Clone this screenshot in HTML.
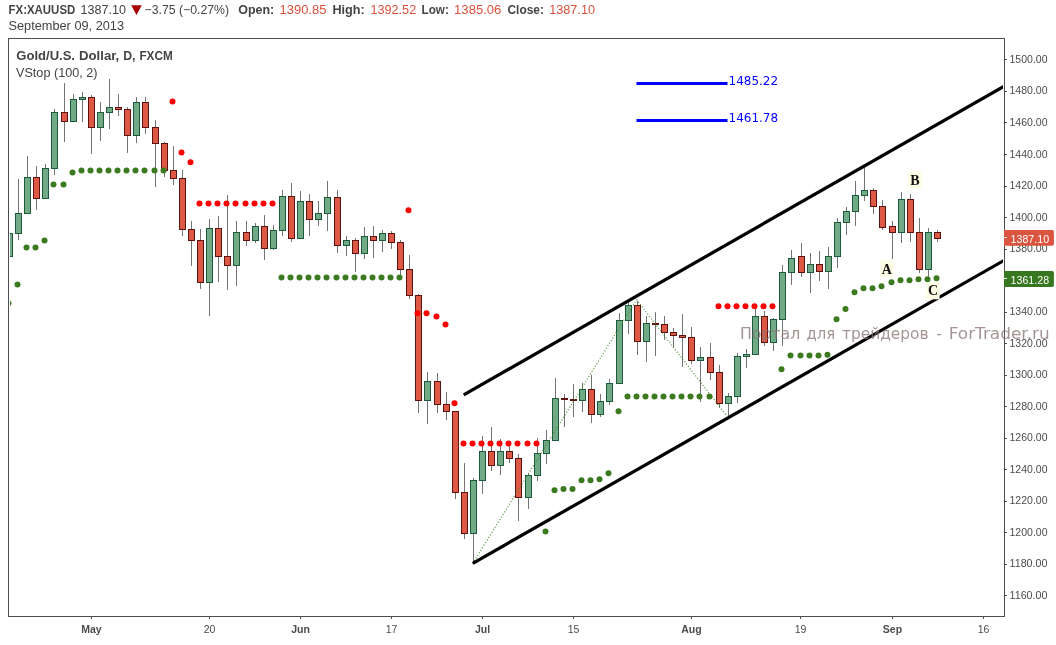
<!DOCTYPE html>
<html><head><meta charset="utf-8"><title>XAUUSD chart</title>
<style>html,body{margin:0;padding:0;background:#fff;}svg{display:block;}text{font-family:"Liberation Sans",sans-serif;}.ax{font-size:10.5px;fill:#4c4c4c;}.hd{font-size:12.4px;fill:#444;}.b{font-weight:bold;}.rv{fill:#d9513c;}.wk{fill:#737373;}.gb{fill:#70aa87;stroke:#1d5a3a;stroke-width:1;}.rb{fill:#dd5946;stroke:#5c130d;stroke-width:1;}.abc{font-family:"Liberation Serif",serif;font-weight:bold;font-size:14px;fill:#111;}</style></head><body>
<svg width="1056" height="645" viewBox="0 0 1056 645">
<rect width="1056" height="645" fill="#fff"/>
<defs><clipPath id="cp"><rect x="10" y="40" width="993" height="575"/></clipPath></defs>
<g clip-path="url(#cp)">
<rect class="wk" x="9" y="233" width="1" height="24"/>
<rect class="gb" x="6.5" y="233.5" width="6" height="23"/>
<rect class="wk" x="18" y="179" width="1" height="61"/>
<rect class="gb" x="15.5" y="213.5" width="6" height="20"/>
<rect class="wk" x="27" y="156" width="1" height="58"/>
<rect class="gb" x="24.5" y="177.5" width="6" height="36"/>
<rect class="wk" x="36" y="166" width="1" height="44"/>
<rect class="rb" x="33.5" y="177.5" width="6" height="21"/>
<rect class="wk" x="45" y="164" width="1" height="35"/>
<rect class="gb" x="42.5" y="168.5" width="6" height="30"/>
<rect class="wk" x="54" y="109" width="1" height="66"/>
<rect class="gb" x="51.5" y="112.5" width="6" height="56"/>
<rect class="wk" x="64" y="83" width="1" height="59"/>
<rect class="rb" x="61.5" y="112.5" width="6" height="9"/>
<rect class="wk" x="73" y="94" width="1" height="28"/>
<rect class="gb" x="70.5" y="99.5" width="6" height="22"/>
<rect class="wk" x="82" y="92" width="1" height="30"/>
<rect class="gb" x="79.5" y="97.5" width="6" height="2"/>
<rect class="wk" x="91" y="95" width="1" height="59"/>
<rect class="rb" x="88.5" y="97.5" width="6" height="30"/>
<rect class="wk" x="100" y="102" width="1" height="39"/>
<rect class="gb" x="97.5" y="112.5" width="6" height="15"/>
<rect class="wk" x="109" y="79" width="1" height="50"/>
<rect class="gb" x="106.5" y="107.5" width="6" height="5"/>
<rect class="wk" x="118" y="94" width="1" height="22"/>
<rect class="rb" x="115.5" y="107.5" width="6" height="2"/>
<rect class="wk" x="127" y="107" width="1" height="46"/>
<rect class="rb" x="124.5" y="109.5" width="6" height="26"/>
<rect class="wk" x="136" y="97" width="1" height="46"/>
<rect class="gb" x="133.5" y="102.5" width="6" height="33"/>
<rect class="wk" x="145" y="97" width="1" height="37"/>
<rect class="rb" x="142.5" y="102.5" width="6" height="25"/>
<rect class="wk" x="155" y="120" width="1" height="67"/>
<rect class="rb" x="152.5" y="127.5" width="6" height="16"/>
<rect class="wk" x="164" y="142" width="1" height="35"/>
<rect class="rb" x="161.5" y="143.5" width="6" height="27"/>
<rect class="wk" x="173" y="146" width="1" height="39"/>
<rect class="rb" x="170.5" y="170.5" width="6" height="8"/>
<rect class="wk" x="182" y="170" width="1" height="66"/>
<rect class="rb" x="179.5" y="178.5" width="6" height="51"/>
<rect class="wk" x="191" y="221" width="1" height="45"/>
<rect class="rb" x="188.5" y="229.5" width="6" height="11"/>
<rect class="wk" x="200" y="229" width="1" height="60"/>
<rect class="rb" x="197.5" y="240.5" width="6" height="42"/>
<rect class="wk" x="209" y="219" width="1" height="97"/>
<rect class="gb" x="206.5" y="228.5" width="6" height="54"/>
<rect class="wk" x="218" y="216" width="1" height="66"/>
<rect class="rb" x="215.5" y="228.5" width="6" height="28"/>
<rect class="wk" x="227" y="195" width="1" height="95"/>
<rect class="rb" x="224.5" y="256.5" width="6" height="9"/>
<rect class="wk" x="236" y="221" width="1" height="65"/>
<rect class="gb" x="233.5" y="232.5" width="6" height="33"/>
<rect class="wk" x="246" y="221" width="1" height="25"/>
<rect class="rb" x="243.5" y="232.5" width="6" height="8"/>
<rect class="wk" x="255" y="223" width="1" height="20"/>
<rect class="gb" x="252.5" y="226.5" width="6" height="14"/>
<rect class="wk" x="264" y="215" width="1" height="45"/>
<rect class="rb" x="261.5" y="226.5" width="6" height="22"/>
<rect class="wk" x="273" y="225" width="1" height="25"/>
<rect class="gb" x="270.5" y="230.5" width="6" height="18"/>
<rect class="wk" x="282" y="190" width="1" height="46"/>
<rect class="gb" x="279.5" y="196.5" width="6" height="34"/>
<rect class="wk" x="291" y="183" width="1" height="59"/>
<rect class="rb" x="288.5" y="196.5" width="6" height="42"/>
<rect class="wk" x="300" y="191" width="1" height="48"/>
<rect class="gb" x="297.5" y="201.5" width="6" height="37"/>
<rect class="wk" x="309" y="194" width="1" height="42"/>
<rect class="rb" x="306.5" y="201.5" width="6" height="18"/>
<rect class="wk" x="318" y="201" width="1" height="25"/>
<rect class="gb" x="315.5" y="213.5" width="6" height="6"/>
<rect class="wk" x="327" y="181" width="1" height="50"/>
<rect class="gb" x="324.5" y="197.5" width="6" height="16"/>
<rect class="wk" x="337" y="190" width="1" height="63"/>
<rect class="rb" x="334.5" y="197.5" width="6" height="48"/>
<rect class="wk" x="346" y="236" width="1" height="20"/>
<rect class="gb" x="343.5" y="240.5" width="6" height="5"/>
<rect class="wk" x="355" y="238" width="1" height="34"/>
<rect class="rb" x="352.5" y="240.5" width="6" height="13"/>
<rect class="wk" x="364" y="227" width="1" height="32"/>
<rect class="gb" x="361.5" y="236.5" width="6" height="17"/>
<rect class="wk" x="373" y="226" width="1" height="32"/>
<rect class="rb" x="370.5" y="236.5" width="6" height="4"/>
<rect class="wk" x="382" y="230" width="1" height="22"/>
<rect class="gb" x="379.5" y="233.5" width="6" height="7"/>
<rect class="wk" x="391" y="231" width="1" height="18"/>
<rect class="rb" x="388.5" y="233.5" width="6" height="9"/>
<rect class="wk" x="400" y="240" width="1" height="36"/>
<rect class="rb" x="397.5" y="242.5" width="6" height="27"/>
<rect class="wk" x="409" y="255" width="1" height="44"/>
<rect class="rb" x="406.5" y="269.5" width="6" height="26"/>
<rect class="wk" x="418" y="294" width="1" height="119"/>
<rect class="rb" x="415.5" y="295.5" width="6" height="105"/>
<rect class="wk" x="427" y="372" width="1" height="52"/>
<rect class="gb" x="424.5" y="381.5" width="6" height="19"/>
<rect class="wk" x="437" y="373" width="1" height="40"/>
<rect class="rb" x="434.5" y="381.5" width="6" height="23"/>
<rect class="wk" x="446" y="392" width="1" height="28"/>
<rect class="rb" x="443.5" y="404.5" width="6" height="7"/>
<rect class="wk" x="455" y="411" width="1" height="88"/>
<rect class="rb" x="452.5" y="411.5" width="6" height="81"/>
<rect class="wk" x="464" y="463" width="1" height="76"/>
<rect class="rb" x="461.5" y="492.5" width="6" height="41"/>
<rect class="wk" x="473" y="478" width="1" height="85"/>
<rect class="gb" x="470.5" y="480.5" width="6" height="53"/>
<rect class="wk" x="482" y="436" width="1" height="58"/>
<rect class="gb" x="479.5" y="451.5" width="6" height="29"/>
<rect class="wk" x="491" y="427" width="1" height="44"/>
<rect class="rb" x="488.5" y="451.5" width="6" height="14"/>
<rect class="wk" x="500" y="439" width="1" height="36"/>
<rect class="gb" x="497.5" y="451.5" width="6" height="14"/>
<rect class="wk" x="509" y="445" width="1" height="18"/>
<rect class="rb" x="506.5" y="451.5" width="6" height="7"/>
<rect class="wk" x="518" y="454" width="1" height="67"/>
<rect class="rb" x="515.5" y="458.5" width="6" height="39"/>
<rect class="wk" x="528" y="473" width="1" height="36"/>
<rect class="gb" x="525.5" y="475.5" width="6" height="22"/>
<rect class="wk" x="537" y="438" width="1" height="43"/>
<rect class="gb" x="534.5" y="453.5" width="6" height="22"/>
<rect class="wk" x="546" y="430" width="1" height="34"/>
<rect class="gb" x="543.5" y="440.5" width="6" height="13"/>
<rect class="wk" x="555" y="378" width="1" height="63"/>
<rect class="gb" x="552.5" y="398.5" width="6" height="42"/>
<rect class="wk" x="564" y="394" width="1" height="33"/>
<rect class="rb" x="561.5" y="398.5" width="6" height="1"/>
<rect class="wk" x="573" y="384" width="1" height="33"/>
<rect class="rb" x="570.5" y="399.5" width="6" height="1"/>
<rect class="wk" x="582" y="383" width="1" height="29"/>
<rect class="gb" x="579.5" y="389.5" width="6" height="11"/>
<rect class="wk" x="591" y="375" width="1" height="48"/>
<rect class="rb" x="588.5" y="389.5" width="6" height="25"/>
<rect class="wk" x="600" y="394" width="1" height="23"/>
<rect class="gb" x="597.5" y="401.5" width="6" height="13"/>
<rect class="wk" x="609" y="379" width="1" height="26"/>
<rect class="gb" x="606.5" y="383.5" width="6" height="18"/>
<rect class="wk" x="619" y="313" width="1" height="71"/>
<rect class="gb" x="616.5" y="320.5" width="6" height="63"/>
<rect class="wk" x="628" y="302" width="1" height="32"/>
<rect class="gb" x="625.5" y="305.5" width="6" height="15"/>
<rect class="wk" x="637" y="301" width="1" height="54"/>
<rect class="rb" x="634.5" y="305.5" width="6" height="36"/>
<rect class="wk" x="646" y="316" width="1" height="46"/>
<rect class="gb" x="643.5" y="323.5" width="6" height="18"/>
<rect class="wk" x="655" y="312" width="1" height="44"/>
<rect class="rb" x="652.5" y="323.5" width="6" height="1"/>
<rect class="wk" x="664" y="316" width="1" height="24"/>
<rect class="rb" x="661.5" y="324.5" width="6" height="8"/>
<rect class="wk" x="673" y="328" width="1" height="19"/>
<rect class="rb" x="670.5" y="332.5" width="6" height="3"/>
<rect class="wk" x="682" y="314" width="1" height="53"/>
<rect class="rb" x="679.5" y="335.5" width="6" height="2"/>
<rect class="wk" x="691" y="327" width="1" height="37"/>
<rect class="rb" x="688.5" y="337.5" width="6" height="23"/>
<rect class="wk" x="700" y="347" width="1" height="55"/>
<rect class="gb" x="697.5" y="357.5" width="6" height="3"/>
<rect class="wk" x="710" y="343" width="1" height="37"/>
<rect class="rb" x="707.5" y="357.5" width="6" height="15"/>
<rect class="wk" x="719" y="365" width="1" height="43"/>
<rect class="rb" x="716.5" y="372.5" width="6" height="31"/>
<rect class="wk" x="728" y="393" width="1" height="23"/>
<rect class="gb" x="725.5" y="396.5" width="6" height="7"/>
<rect class="wk" x="737" y="353" width="1" height="50"/>
<rect class="gb" x="734.5" y="356.5" width="6" height="40"/>
<rect class="wk" x="746" y="349" width="1" height="19"/>
<rect class="gb" x="743.5" y="354.5" width="6" height="2"/>
<rect class="wk" x="755" y="309" width="1" height="46"/>
<rect class="gb" x="752.5" y="316.5" width="6" height="38"/>
<rect class="wk" x="764" y="311" width="1" height="35"/>
<rect class="rb" x="761.5" y="316.5" width="6" height="26"/>
<rect class="wk" x="773" y="318" width="1" height="33"/>
<rect class="gb" x="770.5" y="319.5" width="6" height="23"/>
<rect class="wk" x="782" y="265" width="1" height="81"/>
<rect class="gb" x="779.5" y="272.5" width="6" height="47"/>
<rect class="wk" x="791" y="250" width="1" height="35"/>
<rect class="gb" x="788.5" y="258.5" width="6" height="14"/>
<rect class="wk" x="801" y="243" width="1" height="34"/>
<rect class="rb" x="798.5" y="256.5" width="6" height="16"/>
<rect class="wk" x="810" y="253" width="1" height="40"/>
<rect class="gb" x="807.5" y="264.5" width="6" height="8"/>
<rect class="wk" x="819" y="251" width="1" height="30"/>
<rect class="rb" x="816.5" y="264.5" width="6" height="7"/>
<rect class="wk" x="828" y="247" width="1" height="42"/>
<rect class="gb" x="825.5" y="256.5" width="6" height="15"/>
<rect class="wk" x="837" y="218" width="1" height="50"/>
<rect class="gb" x="834.5" y="222.5" width="6" height="34"/>
<rect class="wk" x="846" y="207" width="1" height="28"/>
<rect class="gb" x="843.5" y="211.5" width="6" height="11"/>
<rect class="wk" x="855" y="181" width="1" height="45"/>
<rect class="gb" x="852.5" y="195.5" width="6" height="16"/>
<rect class="wk" x="864" y="167" width="1" height="34"/>
<rect class="gb" x="861.5" y="190.5" width="6" height="5"/>
<rect class="wk" x="873" y="188" width="1" height="26"/>
<rect class="rb" x="870.5" y="190.5" width="6" height="16"/>
<rect class="wk" x="882" y="200" width="1" height="30"/>
<rect class="rb" x="879.5" y="206.5" width="6" height="21"/>
<rect class="wk" x="892" y="221" width="1" height="38"/>
<rect class="rb" x="889.5" y="226.5" width="6" height="6"/>
<rect class="wk" x="901" y="192" width="1" height="51"/>
<rect class="gb" x="898.5" y="199.5" width="6" height="33"/>
<rect class="wk" x="910" y="194" width="1" height="48"/>
<rect class="rb" x="907.5" y="199.5" width="6" height="33"/>
<rect class="wk" x="919" y="218" width="1" height="55"/>
<rect class="rb" x="916.5" y="232.5" width="6" height="37"/>
<rect class="wk" x="928" y="228" width="1" height="54"/>
<rect class="gb" x="925.5" y="232.5" width="6" height="37"/>
<rect class="wk" x="937" y="230" width="1" height="12"/>
<rect class="rb" x="934.5" y="232.5" width="6" height="6"/>
<polyline points="472.9,563 636.6,299.8 727,416.2" fill="none" stroke="#3f8a24" stroke-width="1.2" stroke-linecap="round" stroke-dasharray="0.01,3"/>
<line x1="463.7" y1="394.8" x2="1012" y2="81.71" stroke="#000" stroke-width="3.25"/>
<line x1="472.8" y1="563.3" x2="1012" y2="255.87" stroke="#000" stroke-width="3.25"/>
<circle cx="8.5" cy="303.3" r="3" fill="#3b7a1f"/>
<circle cx="17.5" cy="284.5" r="3" fill="#3b7a1f"/>
<circle cx="26.5" cy="247.5" r="3" fill="#3b7a1f"/>
<circle cx="35.5" cy="247.5" r="3" fill="#3b7a1f"/>
<circle cx="44.5" cy="240.6" r="3" fill="#3b7a1f"/>
<circle cx="53.5" cy="184.5" r="3" fill="#3b7a1f"/>
<circle cx="63.5" cy="184.5" r="3" fill="#3b7a1f"/>
<circle cx="72.5" cy="172.6" r="3" fill="#3b7a1f"/>
<circle cx="81.5" cy="170.6" r="3" fill="#3b7a1f"/>
<circle cx="90.5" cy="170.6" r="3" fill="#3b7a1f"/>
<circle cx="99.5" cy="170.6" r="3" fill="#3b7a1f"/>
<circle cx="108.5" cy="170.6" r="3" fill="#3b7a1f"/>
<circle cx="117.5" cy="170.6" r="3" fill="#3b7a1f"/>
<circle cx="126.5" cy="170.6" r="3" fill="#3b7a1f"/>
<circle cx="135.5" cy="170.6" r="3" fill="#3b7a1f"/>
<circle cx="144.5" cy="170.6" r="3" fill="#3b7a1f"/>
<circle cx="154.5" cy="170.6" r="3" fill="#3b7a1f"/>
<circle cx="163.5" cy="170.6" r="3" fill="#3b7a1f"/>
<circle cx="281.5" cy="277.4" r="3" fill="#3b7a1f"/>
<circle cx="290.5" cy="277.4" r="3" fill="#3b7a1f"/>
<circle cx="299.5" cy="277.4" r="3" fill="#3b7a1f"/>
<circle cx="308.5" cy="277.4" r="3" fill="#3b7a1f"/>
<circle cx="317.5" cy="277.4" r="3" fill="#3b7a1f"/>
<circle cx="326.5" cy="277.4" r="3" fill="#3b7a1f"/>
<circle cx="336.5" cy="277.4" r="3" fill="#3b7a1f"/>
<circle cx="345.5" cy="277.4" r="3" fill="#3b7a1f"/>
<circle cx="354.5" cy="277.4" r="3" fill="#3b7a1f"/>
<circle cx="363.5" cy="277.4" r="3" fill="#3b7a1f"/>
<circle cx="372.5" cy="277.4" r="3" fill="#3b7a1f"/>
<circle cx="381.5" cy="277.4" r="3" fill="#3b7a1f"/>
<circle cx="390.5" cy="277.4" r="3" fill="#3b7a1f"/>
<circle cx="399.5" cy="277.4" r="3" fill="#3b7a1f"/>
<circle cx="545.5" cy="531.6" r="3" fill="#3b7a1f"/>
<circle cx="554.5" cy="490.2" r="3" fill="#3b7a1f"/>
<circle cx="563.5" cy="489" r="3" fill="#3b7a1f"/>
<circle cx="572.5" cy="489" r="3" fill="#3b7a1f"/>
<circle cx="581.5" cy="480.2" r="3" fill="#3b7a1f"/>
<circle cx="590.5" cy="480.2" r="3" fill="#3b7a1f"/>
<circle cx="599.5" cy="479.2" r="3" fill="#3b7a1f"/>
<circle cx="608.5" cy="473.3" r="3" fill="#3b7a1f"/>
<circle cx="618.5" cy="411.3" r="3" fill="#3b7a1f"/>
<circle cx="627.5" cy="396.4" r="3" fill="#3b7a1f"/>
<circle cx="636.5" cy="396.4" r="3" fill="#3b7a1f"/>
<circle cx="645.5" cy="396.4" r="3" fill="#3b7a1f"/>
<circle cx="654.5" cy="396.4" r="3" fill="#3b7a1f"/>
<circle cx="663.5" cy="396.4" r="3" fill="#3b7a1f"/>
<circle cx="672.5" cy="396.4" r="3" fill="#3b7a1f"/>
<circle cx="681.5" cy="396.4" r="3" fill="#3b7a1f"/>
<circle cx="690.5" cy="396.4" r="3" fill="#3b7a1f"/>
<circle cx="699.5" cy="396.4" r="3" fill="#3b7a1f"/>
<circle cx="709.5" cy="396.4" r="3" fill="#3b7a1f"/>
<circle cx="781.5" cy="369.3" r="3" fill="#3b7a1f"/>
<circle cx="790.5" cy="355.5" r="3" fill="#3b7a1f"/>
<circle cx="800.5" cy="355.5" r="3" fill="#3b7a1f"/>
<circle cx="809.5" cy="355.5" r="3" fill="#3b7a1f"/>
<circle cx="818.5" cy="355.5" r="3" fill="#3b7a1f"/>
<circle cx="827.5" cy="354.8" r="3" fill="#3b7a1f"/>
<circle cx="836.5" cy="319.3" r="3" fill="#3b7a1f"/>
<circle cx="845.5" cy="309" r="3" fill="#3b7a1f"/>
<circle cx="854.5" cy="292.2" r="3" fill="#3b7a1f"/>
<circle cx="863.5" cy="288.2" r="3" fill="#3b7a1f"/>
<circle cx="872.5" cy="288.2" r="3" fill="#3b7a1f"/>
<circle cx="881.5" cy="286.2" r="3" fill="#3b7a1f"/>
<circle cx="891.5" cy="282.3" r="3" fill="#3b7a1f"/>
<circle cx="900.5" cy="280.3" r="3" fill="#3b7a1f"/>
<circle cx="909.5" cy="280.3" r="3" fill="#3b7a1f"/>
<circle cx="918.5" cy="279.3" r="3" fill="#3b7a1f"/>
<circle cx="927.5" cy="279.3" r="3" fill="#3b7a1f"/>
<circle cx="936.5" cy="278.3" r="3" fill="#3b7a1f"/>
<circle cx="172.5" cy="101.5" r="3" fill="#ff0000"/>
<circle cx="181.5" cy="152.5" r="3" fill="#ff0000"/>
<circle cx="190.5" cy="162.3" r="3" fill="#ff0000"/>
<circle cx="199.5" cy="203.5" r="3" fill="#ff0000"/>
<circle cx="208.5" cy="203.5" r="3" fill="#ff0000"/>
<circle cx="217.5" cy="203.5" r="3" fill="#ff0000"/>
<circle cx="226.5" cy="203.5" r="3" fill="#ff0000"/>
<circle cx="235.5" cy="203.5" r="3" fill="#ff0000"/>
<circle cx="245.5" cy="203.5" r="3" fill="#ff0000"/>
<circle cx="254.5" cy="203.5" r="3" fill="#ff0000"/>
<circle cx="263.5" cy="203.5" r="3" fill="#ff0000"/>
<circle cx="272.5" cy="203.5" r="3" fill="#ff0000"/>
<circle cx="408.5" cy="210.3" r="3" fill="#ff0000"/>
<circle cx="417.5" cy="313.3" r="3" fill="#ff0000"/>
<circle cx="426.5" cy="313.3" r="3" fill="#ff0000"/>
<circle cx="436.5" cy="316.5" r="3" fill="#ff0000"/>
<circle cx="445.5" cy="324.5" r="3" fill="#ff0000"/>
<circle cx="454.5" cy="403.2" r="3" fill="#ff0000"/>
<circle cx="463.5" cy="443.4" r="3" fill="#ff0000"/>
<circle cx="472.5" cy="443.4" r="3" fill="#ff0000"/>
<circle cx="481.5" cy="443.4" r="3" fill="#ff0000"/>
<circle cx="490.5" cy="443.4" r="3" fill="#ff0000"/>
<circle cx="499.5" cy="443.4" r="3" fill="#ff0000"/>
<circle cx="508.5" cy="443.4" r="3" fill="#ff0000"/>
<circle cx="517.5" cy="443.4" r="3" fill="#ff0000"/>
<circle cx="527.5" cy="443.4" r="3" fill="#ff0000"/>
<circle cx="536.5" cy="443.4" r="3" fill="#ff0000"/>
<circle cx="718.5" cy="306.3" r="3" fill="#ff0000"/>
<circle cx="727.5" cy="306.3" r="3" fill="#ff0000"/>
<circle cx="736.5" cy="306.3" r="3" fill="#ff0000"/>
<circle cx="745.5" cy="306.3" r="3" fill="#ff0000"/>
<circle cx="754.5" cy="306.3" r="3" fill="#ff0000"/>
<circle cx="763.5" cy="306.3" r="3" fill="#ff0000"/>
<circle cx="772.5" cy="306.3" r="3" fill="#ff0000"/>
<rect x="636.5" y="82" width="91" height="3" fill="#0000ff"/>
<rect x="636.5" y="119" width="91" height="3" fill="#0000ff"/>
<text x="728.5" y="85" style="font-family:'DejaVu Sans',sans-serif;font-size:12px;fill:#0000ff">1485.22</text>
<text x="728.5" y="122" style="font-family:'DejaVu Sans',sans-serif;font-size:12px;fill:#0000ff">1461.78</text>
<rect x="880.3" y="260.3" width="13.2" height="16.7" fill="#fdfde3"/>
<text class="abc" x="886.9" y="274.1" text-anchor="middle">A</text>
<rect x="908.2" y="171.3" width="13.6" height="16.7" fill="#fdfde3"/>
<text class="abc" x="915.0" y="184.5" text-anchor="middle">B</text>
<rect x="926.4" y="282.5" width="13.2" height="16.8" fill="#fdfde3"/>
<text class="abc" x="933.0" y="295.4" text-anchor="middle">C</text>
<text x="16.3" y="60" class="b" style="font-size:13px;fill:#444" textLength="58.7" lengthAdjust="spacingAndGlyphs">Gold/U.S.</text>
<text x="79.0" y="60" class="b" style="font-size:13px;fill:#444" textLength="40.3" lengthAdjust="spacingAndGlyphs">Dollar,</text>
<text x="123.2" y="60" class="b" style="font-size:13px;fill:#444" textLength="12.3" lengthAdjust="spacingAndGlyphs">D,</text>
<text x="139.4" y="60" class="b" style="font-size:13px;fill:#444" textLength="33.3" lengthAdjust="spacingAndGlyphs">FXCM</text>
<text x="16" y="77" style="font-size:12.3px;fill:#444" textLength="81.5" lengthAdjust="spacingAndGlyphs">VStop (100, 2)</text>
</g>
<rect x="8.5" y="38.5" width="996.0" height="578.0" fill="none" stroke="#4d4d4d" stroke-width="1"/>
<text x="739.9" y="339.2" style="font-family:'DejaVu Sans',sans-serif;font-size:16px;fill:#8a7676;fill-opacity:0.78" textLength="60.4" lengthAdjust="spacingAndGlyphs">Портал</text>
<text x="806.5" y="339.2" style="font-family:'DejaVu Sans',sans-serif;font-size:16px;fill:#8a7676;fill-opacity:0.78" textLength="28.6" lengthAdjust="spacingAndGlyphs">для</text>
<text x="842.0" y="339.2" style="font-family:'DejaVu Sans',sans-serif;font-size:16px;fill:#8a7676;fill-opacity:0.78" textLength="86.6" lengthAdjust="spacingAndGlyphs">трейдеров</text>
<text x="936.3" y="339.2" style="font-family:'DejaVu Sans',sans-serif;font-size:16px;fill:#8a7676;fill-opacity:0.78" textLength="5.7" lengthAdjust="spacingAndGlyphs">-</text>
<text x="948.7" y="339.2" style="font-family:'DejaVu Sans',sans-serif;font-size:16px;fill:#8a7676;fill-opacity:0.78" textLength="101.0" lengthAdjust="spacingAndGlyphs">ForTrader.ru</text>
<rect x="1004" y="59" width="3" height="1" fill="#4d4d4d"/>
<text class="ax" x="1009.5" y="62.9" textLength="38" lengthAdjust="spacingAndGlyphs">1500.00</text>
<rect x="1004" y="91" width="3" height="1" fill="#4d4d4d"/>
<text class="ax" x="1009.5" y="94.4" textLength="38" lengthAdjust="spacingAndGlyphs">1480.00</text>
<rect x="1004" y="122" width="3" height="1" fill="#4d4d4d"/>
<text class="ax" x="1009.5" y="126.0" textLength="38" lengthAdjust="spacingAndGlyphs">1460.00</text>
<rect x="1004" y="154" width="3" height="1" fill="#4d4d4d"/>
<text class="ax" x="1009.5" y="157.5" textLength="38" lengthAdjust="spacingAndGlyphs">1440.00</text>
<rect x="1004" y="186" width="3" height="1" fill="#4d4d4d"/>
<text class="ax" x="1009.5" y="189.0" textLength="38" lengthAdjust="spacingAndGlyphs">1420.00</text>
<rect x="1004" y="217" width="3" height="1" fill="#4d4d4d"/>
<text class="ax" x="1009.5" y="220.6" textLength="38" lengthAdjust="spacingAndGlyphs">1400.00</text>
<rect x="1004" y="249" width="3" height="1" fill="#4d4d4d"/>
<text class="ax" x="1009.5" y="252.1" textLength="38" lengthAdjust="spacingAndGlyphs">1380.00</text>
<rect x="1004" y="280" width="3" height="1" fill="#4d4d4d"/>
<text class="ax" x="1009.5" y="283.6" textLength="38" lengthAdjust="spacingAndGlyphs">1360.00</text>
<rect x="1004" y="312" width="3" height="1" fill="#4d4d4d"/>
<text class="ax" x="1009.5" y="315.1" textLength="38" lengthAdjust="spacingAndGlyphs">1340.00</text>
<rect x="1004" y="343" width="3" height="1" fill="#4d4d4d"/>
<text class="ax" x="1009.5" y="346.7" textLength="38" lengthAdjust="spacingAndGlyphs">1320.00</text>
<rect x="1004" y="375" width="3" height="1" fill="#4d4d4d"/>
<text class="ax" x="1009.5" y="378.2" textLength="38" lengthAdjust="spacingAndGlyphs">1300.00</text>
<rect x="1004" y="406" width="3" height="1" fill="#4d4d4d"/>
<text class="ax" x="1009.5" y="409.7" textLength="38" lengthAdjust="spacingAndGlyphs">1280.00</text>
<rect x="1004" y="438" width="3" height="1" fill="#4d4d4d"/>
<text class="ax" x="1009.5" y="441.3" textLength="38" lengthAdjust="spacingAndGlyphs">1260.00</text>
<rect x="1004" y="469" width="3" height="1" fill="#4d4d4d"/>
<text class="ax" x="1009.5" y="472.8" textLength="38" lengthAdjust="spacingAndGlyphs">1240.00</text>
<rect x="1004" y="501" width="3" height="1" fill="#4d4d4d"/>
<text class="ax" x="1009.5" y="504.3" textLength="38" lengthAdjust="spacingAndGlyphs">1220.00</text>
<rect x="1004" y="532" width="3" height="1" fill="#4d4d4d"/>
<text class="ax" x="1009.5" y="535.9" textLength="38" lengthAdjust="spacingAndGlyphs">1200.00</text>
<rect x="1004" y="564" width="3" height="1" fill="#4d4d4d"/>
<text class="ax" x="1009.5" y="567.4" textLength="38" lengthAdjust="spacingAndGlyphs">1180.00</text>
<rect x="1004" y="595" width="3" height="1" fill="#4d4d4d"/>
<text class="ax" x="1009.5" y="598.9" textLength="38" lengthAdjust="spacingAndGlyphs">1160.00</text>
<path d="M1004 230H1052.2a1.7 1.7 0 0 1 1.7 1.7V244.1a1.7 1.7 0 0 1-1.7 1.7H1004Z" fill="#d9553f"/>
<rect x="1004" y="237" width="3" height="1" fill="#fff"/>
<text x="1010.5" y="242.6" style="font-size:10.4px;fill:#fff" textLength="38.6" lengthAdjust="spacingAndGlyphs">1387.10</text>
<path d="M1004 271H1052.2a1.7 1.7 0 0 1 1.7 1.7V285.2a1.7 1.7 0 0 1-1.7 1.7H1004Z" fill="#37771f"/>
<rect x="1004" y="278" width="3" height="1" fill="#fff"/>
<text x="1010.5" y="283.6" style="font-size:10.4px;fill:#fff" textLength="38.6" lengthAdjust="spacingAndGlyphs">1361.28</text>
<rect x="91" y="617" width="1" height="2" fill="#4d4d4d"/>
<text class="ax b" x="91.5" y="633" text-anchor="middle">May</text>
<rect x="209" y="617" width="1" height="2" fill="#4d4d4d"/>
<text class="ax" x="209.5" y="633" text-anchor="middle">20</text>
<rect x="300" y="617" width="1" height="2" fill="#4d4d4d"/>
<text class="ax b" x="300.5" y="633" text-anchor="middle">Jun</text>
<rect x="391" y="617" width="1" height="2" fill="#4d4d4d"/>
<text class="ax" x="391.5" y="633" text-anchor="middle">17</text>
<rect x="482" y="617" width="1" height="2" fill="#4d4d4d"/>
<text class="ax b" x="482.5" y="633" text-anchor="middle">Jul</text>
<rect x="573" y="617" width="1" height="2" fill="#4d4d4d"/>
<text class="ax" x="573.5" y="633" text-anchor="middle">15</text>
<rect x="691" y="617" width="1" height="2" fill="#4d4d4d"/>
<text class="ax b" x="691.5" y="633" text-anchor="middle">Aug</text>
<rect x="800" y="617" width="1" height="2" fill="#4d4d4d"/>
<text class="ax" x="800.5" y="633" text-anchor="middle">19</text>
<rect x="892" y="617" width="1" height="2" fill="#4d4d4d"/>
<text class="ax b" x="892.5" y="633" text-anchor="middle">Sep</text>
<rect x="983" y="617" width="1" height="2" fill="#4d4d4d"/>
<text class="ax" x="983.5" y="633" text-anchor="middle">16</text>
<text class="hd b" x="8.5" y="14.2" textLength="66.8" lengthAdjust="spacingAndGlyphs">FX:XAUUSD</text>
<text class="hd " x="80.4" y="14.2" textLength="45.5" lengthAdjust="spacingAndGlyphs">1387.10</text>
<path d="M131.2 5.2H141.8L136.5 15Z" fill="#a80000"/>
<text class="hd " x="144.6" y="14.2" textLength="84.4" lengthAdjust="spacingAndGlyphs">−3.75 (−0.27%)</text>
<text class="hd b" x="238.2" y="14.2" textLength="36.0" lengthAdjust="spacingAndGlyphs">Open:</text>
<text class="hd rv" x="279.5" y="14.2" textLength="46.9" lengthAdjust="spacingAndGlyphs">1390.85</text>
<text class="hd b" x="332.5" y="14.2" textLength="32.2" lengthAdjust="spacingAndGlyphs">High:</text>
<text class="hd rv" x="370.4" y="14.2" textLength="45.8" lengthAdjust="spacingAndGlyphs">1392.52</text>
<text class="hd b" x="421.5" y="14.2" textLength="27.3" lengthAdjust="spacingAndGlyphs">Low:</text>
<text class="hd rv" x="454.1" y="14.2" textLength="47.3" lengthAdjust="spacingAndGlyphs">1385.06</text>
<text class="hd b" x="507.5" y="14.2" textLength="36.4" lengthAdjust="spacingAndGlyphs">Close:</text>
<text class="hd rv" x="549.2" y="14.2" textLength="45.8" lengthAdjust="spacingAndGlyphs">1387.10</text>
<text class="hd " x="8.5" y="29.8" textLength="115.5" lengthAdjust="spacingAndGlyphs">September 09, 2013</text>
</svg></body></html>
